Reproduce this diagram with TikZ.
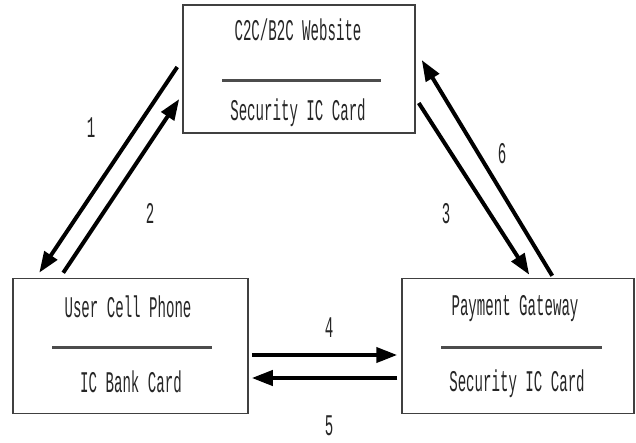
\documentclass[tikz,border=0pt]{standalone}
\usepackage{fontspec}
\newfontfamily\narrowfont[FakeStretch=0.47]{Liberation Mono}
\usetikzlibrary{arrows.meta,calc}

\begin{document}
\begin{tikzpicture}[
  x=1pt, y=-1pt,
  box/.style={rectangle, draw=black!75, line width=1.5pt, inner sep=0pt},
  txt/.style={anchor=base, inner sep=0pt, text=black!85, font=\narrowfont\fontsize{30}{32}\selectfont},
  divider/.style={draw=black!70, line width=3pt},
  flow/.style={line width=4pt, -{Triangle[length=21pt,width=15pt]}}
]
\useasboundingbox (0,0) rectangle (636,442);

% Website
\node[box, minimum width=232pt, minimum height=128pt] (web) at (299,69) {};
\node[txt] (webtop) at (298,40) {C2C/B2C Website};
\node[txt] (webbot) at (298,120) {Security IC Card};
\draw[divider] (222,80) -- (381,80);

% Cell phone
\node[box, minimum width=235pt, minimum height=135pt] (phone) at (130.5,346) {};
\node[txt] (phonetop) at (128,317) {User Cell Phone};
\node[txt] (phonebot) at (131,392) {IC Bank Card};
\draw[divider] (52,347) -- (212,347);

% Gateway
\node[box, minimum width=232pt, minimum height=135pt] (gate) at (518,346) {};
\node[txt] (gatetop) at (515,315) {Payment Gateway};
\node[txt] (gatebot) at (517,391) {Security IC Card};
\draw[divider] (441,347) -- (602,347);

% Arrows
\draw[flow] ([shift={(-5,-2)}]web.west) -- ([shift={(27,-5)}]phone.north west);
\draw[flow] ([shift={(51,-5)}]phone.north west) -- ([shift={(-3,30)}]web.west);
\draw[flow] ([shift={(3,34)}]web.east) -- ([shift={(128,-3)}]gate.north west);
\draw[flow] ([shift={(151,-2)}]gate.north west) -- ([shift={(6,-9)}]web.east);
\draw[flow] ([shift={(3,9)}]phone.east) -- ([shift={(-4,9)}]gate.west);
\draw[flow] ([shift={(-4,32)}]gate.west) -- ([shift={(3,32)}]phone.east);

% Step numbers
\node[txt] (n1) at (91,137) {1};
\node[txt] (n2) at (150,223) {2};
\node[txt] (n3) at (446,223) {3};
\node[txt] (n4) at (329,337) {4};
\node[txt] (n5) at (329,435) {5};
\node[txt] (n6) at (502,163) {6};

\end{tikzpicture}
\end{document}
